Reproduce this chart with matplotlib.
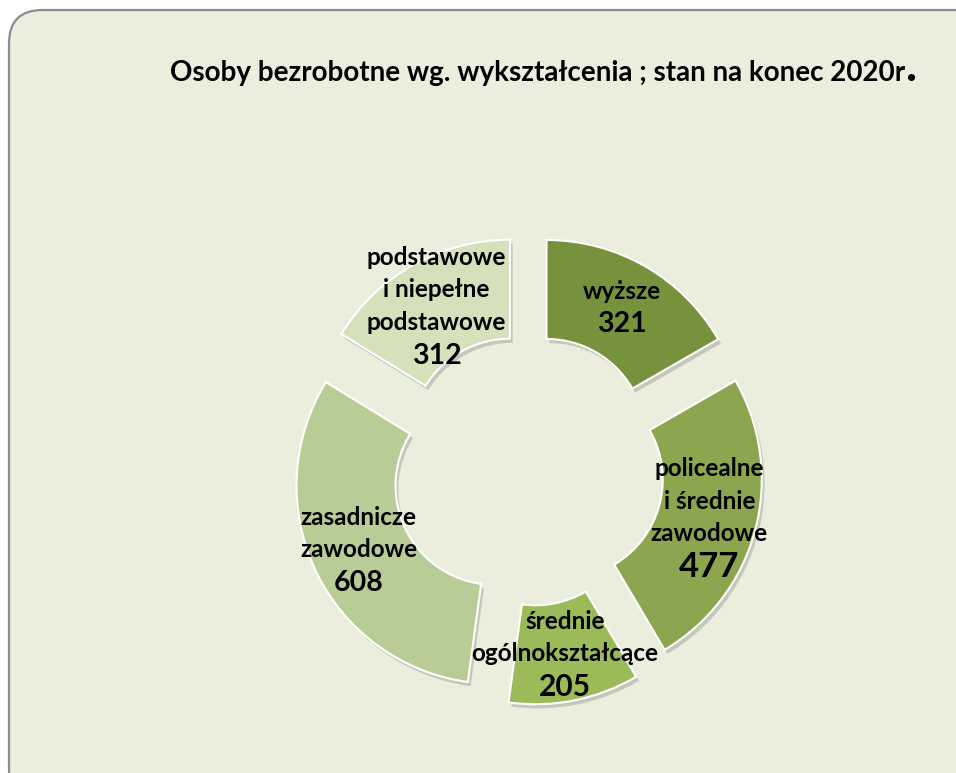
import matplotlib.pyplot as plt
import matplotlib.patheffects as pe
import numpy as np
from matplotlib.patches import FancyBboxPatch

# data
categories = ["wyższe", "policealne\ni średnie\nzawodowe", "średnie\nogólnokształcące",
              "zasadnicze\nzawodowe", "podstawowe\ni niepełne\npodstawowe"]
values = [321, 477, 205, 608, 312]
colors = ["#76923C", "#8BA64F", "#9BBB59", "#B8CD95", "#D5E1BB"]
number_sizes = [20.5, 25, 21.5, 20.5, 20.5]

title = "Osoby bezrobotne wg. wykształcenia ; stan na konec 2020r"

W, H = 956, 773
plt.rcParams['font.family'] = ['Lato', 'DejaVu Sans']


def main():
    fig = plt.figure(figsize=(W / 100, H / 100), dpi=100)
    fig.patch.set_facecolor("white")

    # rounded background panel
    panel = FancyBboxPatch((9 / W, -30 / H), 1.2, 1 - 10 / H + 30 / H,
                           boxstyle="round,pad=0,rounding_size=0.035",
                           transform=fig.transFigure, facecolor="#EBEEDD",
                           edgecolor="#8C8C8C", linewidth=1.6,
                           mutation_aspect=W / H, zorder=-5)
    fig.patches.append(panel)

    ax = fig.add_axes([0, 0, 1, 1])
    ax.patch.set_visible(False)
    cx, cy, R = 528, H - 470, 198
    # explode is in data units (pixels here)
    wedges, _ = ax.pie(values, colors=colors, startangle=90, counterclock=False,
                       radius=R, center=(cx, cy), explode=[37] * len(values),
                       wedgeprops=dict(width=0.5 * R, edgecolor="white",
                                       linewidth=1.5))
    for w in wedges:
        w.set_path_effects([pe.SimplePatchShadow(offset=(2, -3), alpha=0.25,
                                                 shadow_rgbFace="#555555"),
                            pe.Normal()])

    step = 33  # line spacing in pixels
    for w, lab, val, ns in zip(wedges, categories, values, number_sizes):
        mid = np.deg2rad((w.theta1 + w.theta2) / 2)
        px = w.center[0] + 0.76 * R * np.cos(mid)
        py = w.center[1] + 0.76 * R * np.sin(mid)
        n = lab.count("\n") + 1
        ax.text(px, py + step / 2, lab, ha="center", va="center",
                fontsize=17.5, fontweight="bold", linespacing=1.5)
        ax.text(px, py - n / 2 * step, str(val), ha="center", va="center",
                fontsize=ns, fontweight="bold")

    ax.set_xlim(0, W)
    ax.set_ylim(0, H)
    ax.set_aspect("equal")
    ax.axis("off")

    t = fig.text(170 / W, 1 - 81 / H, title, ha="left", va="baseline",
                 fontsize=20, fontweight="bold")
    fig.canvas.draw()
    bb = t.get_window_extent()
    fig.text(bb.x1 / W + 1 / W, 1 - 81 / H, ".", ha="left", va="baseline",
             fontsize=34, fontweight="bold")

    fig.savefig("out.png", dpi=100)


if __name__ == '__main__':
    main()
